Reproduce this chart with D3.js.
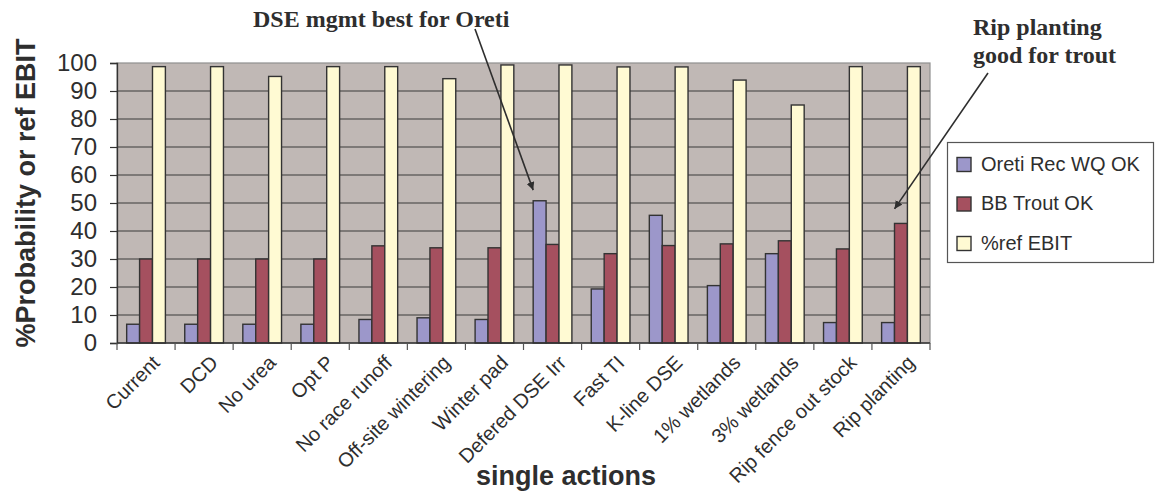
<!DOCTYPE html>
<html>
<head>
<meta charset="utf-8">
<script src="https://cdn.jsdelivr.net/npm/d3@7"></script>
<style>
  html, body { margin: 0; padding: 0; background: #ffffff; }
  svg { display: block; }
  text { fill: #2e2e2e; }
</style>
</head>
<body>
<svg id="chart" width="1155" height="496"></svg>
<script>
// Scenario names along the x axis
const categories = [
  "Current", "DCD", "No urea", "Opt P", "No race runoff", "Off-site wintering",
  "Winter pad", "Defered DSE Irr", "Fast TI", "K-line DSE", "1% wetlands",
  "3% wetlands", "Rip fence out stock", "Rip planting"
];

// Series values (% probability or % of reference EBIT)
const oretiRecWQ = [6.7, 6.7, 6.7, 6.7, 8.4, 9.0, 8.4, 50.8, 19.3, 45.6, 20.5, 31.9, 7.3, 7.3];
const bbTroutOK  = [30.0, 30.0, 30.0, 30.0, 34.7, 34.0, 34.0, 35.2, 31.9, 34.8, 35.4, 36.5, 33.6, 42.7];
const refEBIT    = [98.7, 98.7, 95.2, 98.7, 98.7, 94.4, 99.3, 99.3, 98.6, 98.6, 93.9, 85.0, 98.7, 98.7];

const seriesNames = ["Oreti Rec WQ OK", "BB Trout OK", "%ref EBIT"];
const seriesColors = ["#9c97ca", "#a5505f", "#fffad3"];

const yTicks = [0, 10, 20, 30, 40, 50, 60, 70, 80, 90, 100];

const yTitle = "%Probability or ref EBIT";
const xTitle = "single actions";

// Callout notes: text lines, the bar they point at and the value level of the arrow tip
const notes = [
  { lines: ["DSE mgmt best for Oreti"], category: "Defered DSE Irr", series: 0, tipValue: 54.6 },
  { lines: ["Rip planting", "good for trout"], category: "Rip planting", series: 1, tipValue: 47.9 }
];

// ---- layout ----
const plot = { left: 117, right: 930, top: 63, bottom: 343 };
const sans = "'Liberation Sans', Arial, sans-serif";
const serif = "'Liberation Serif', 'Times New Roman', serif";

const svg = d3.select("#chart");

const x = d3.scaleBand()
  .domain(categories)
  .range([plot.left, plot.right])
  .paddingInner(1 / 3)
  .paddingOuter(1 / 6);

const xSub = d3.scaleBand()
  .domain(d3.range(seriesNames.length))
  .range([0, x.bandwidth()]);

const y = d3.scaleLinear().domain([0, 100]).range([plot.bottom, plot.top]);

// plot background
svg.append("rect")
  .attr("x", plot.left).attr("y", plot.top)
  .attr("width", plot.right - plot.left).attr("height", plot.bottom - plot.top)
  .attr("fill", "#c0b8b5")
  .attr("stroke", "#8f8f8f").attr("stroke-width", 1.2);

// horizontal gridlines
svg.append("g")
  .selectAll("line")
  .data(yTicks.filter(d => d > 0 && d < 100))
  .join("line")
  .attr("x1", plot.left).attr("x2", plot.right)
  .attr("y1", d => y(d)).attr("y2", d => y(d))
  .attr("stroke", "#3a3a3a").attr("stroke-width", 1.1);

// y axis
const yAxis = svg.append("g")
  .attr("transform", `translate(${plot.left},0)`)
  .call(d3.axisLeft(y).tickValues(yTicks).tickSize(7).tickPadding(13));
yAxis.select(".domain").attr("stroke", "#333").attr("stroke-width", 1.3);
yAxis.selectAll(".tick line").attr("stroke", "#333").attr("stroke-width", 1.2);
yAxis.selectAll(".tick text")
  .attr("font-family", sans).attr("font-size", 24).attr("fill", "#2e2e2e");

// bars
const groups = svg.append("g")
  .selectAll("g")
  .data(categories.map((c, i) => ({ c, vals: [oretiRecWQ[i], bbTroutOK[i], refEBIT[i]] })))
  .join("g")
  .attr("transform", d => `translate(${x(d.c)},0)`);

groups.selectAll("rect")
  .data(d => d.vals.map((v, k) => ({ v, k })))
  .join("rect")
  .attr("x", d => xSub(d.k))
  .attr("width", xSub.bandwidth())
  .attr("y", d => y(d.v))
  .attr("height", d => y(0) - y(d.v))
  .attr("fill", d => seriesColors[d.k])
  .attr("stroke", "#333").attr("stroke-width", 1.4);

// x axis line and category separators
svg.append("line")
  .attr("x1", plot.left).attr("x2", plot.right)
  .attr("y1", plot.bottom).attr("y2", plot.bottom)
  .attr("stroke", "#333").attr("stroke-width", 1.3);

const step = x.step();
const bounds = d3.range(categories.length + 1).map(i => plot.left + i * step);
svg.append("g")
  .selectAll("line")
  .data(bounds)
  .join("line")
  .attr("x1", d => d).attr("x2", d => d)
  .attr("y1", plot.bottom).attr("y2", plot.bottom + 7)
  .attr("stroke", "#555").attr("stroke-width", 1.2);

// rotated category labels
svg.append("g")
  .selectAll("text")
  .data(categories)
  .join("text")
  .attr("transform", d => `translate(${x(d) + x.bandwidth() / 2 + 15},${plot.bottom + 21}) rotate(-45)`)
  .attr("text-anchor", "end")
  .attr("font-family", sans).attr("font-size", 20)
  .text(d => d);

// axis titles
svg.append("text")
  .attr("transform", "translate(35,193) rotate(-90)")
  .attr("text-anchor", "middle")
  .attr("font-family", sans).attr("font-weight", "bold").attr("font-size", 27)
  .text(yTitle);

svg.append("text")
  .attr("x", 566).attr("y", 485)
  .attr("text-anchor", "middle")
  .attr("font-family", sans).attr("font-weight", "bold").attr("font-size", 27)
  .text(xTitle);

// legend
const legend = svg.append("g");
legend.append("rect")
  .attr("x", 947.5).attr("y", 142.5).attr("width", 206).attr("height", 120)
  .attr("fill", "#ffffff").attr("stroke", "#555").attr("stroke-width", 1.2);

const items = legend.selectAll("g.item")
  .data(seriesNames)
  .join("g")
  .attr("class", "item")
  .attr("transform", (d, i) => `translate(957,${157.5 + i * 39.5})`);
items.append("rect")
  .attr("width", 14).attr("height", 14)
  .attr("fill", (d, i) => seriesColors[i])
  .attr("stroke", "#333").attr("stroke-width", 1.4);
items.append("text")
  .attr("x", 24).attr("y", 13)
  .attr("font-family", sans).attr("font-size", 20)
  .text(d => d);

// callout arrows
svg.append("defs").append("marker")
  .attr("id", "arrowhead")
  .attr("viewBox", "0 0 10 10")
  .attr("refX", 10).attr("refY", 5)
  .attr("markerWidth", 8).attr("markerHeight", 8)
  .attr("markerUnits", "userSpaceOnUse")
  .attr("orient", "auto")
  .append("path")
  .attr("d", "M0,0 L10,5 L0,10 Z")
  .attr("fill", "#2e2e2e");

const noteLayout = [
  { x: 253, y: 27, lineGap: 0, from: [475, 29] },
  { x: 973, y: 35, lineGap: 28, from: [988, 73] }
];

notes.forEach((n, i) => {
  const L = noteLayout[i];
  const t = svg.append("text")
    .attr("font-family", serif).attr("font-weight", "bold").attr("font-size", 24)
    .attr("fill", "#333");
  n.lines.forEach((ln, j) => {
    t.append("tspan").attr("x", L.x).attr("y", L.y + j * L.lineGap).text(ln);
  });
  const tipX = x(n.category) + xSub(n.series);
  const tipY = y(n.tipValue);
  svg.append("line")
    .attr("x1", L.from[0]).attr("y1", L.from[1])
    .attr("x2", tipX).attr("y2", tipY)
    .attr("stroke", "#2e2e2e").attr("stroke-width", 1.6)
    .attr("marker-end", "url(#arrowhead)");
});
</script>
</body>
</html>
